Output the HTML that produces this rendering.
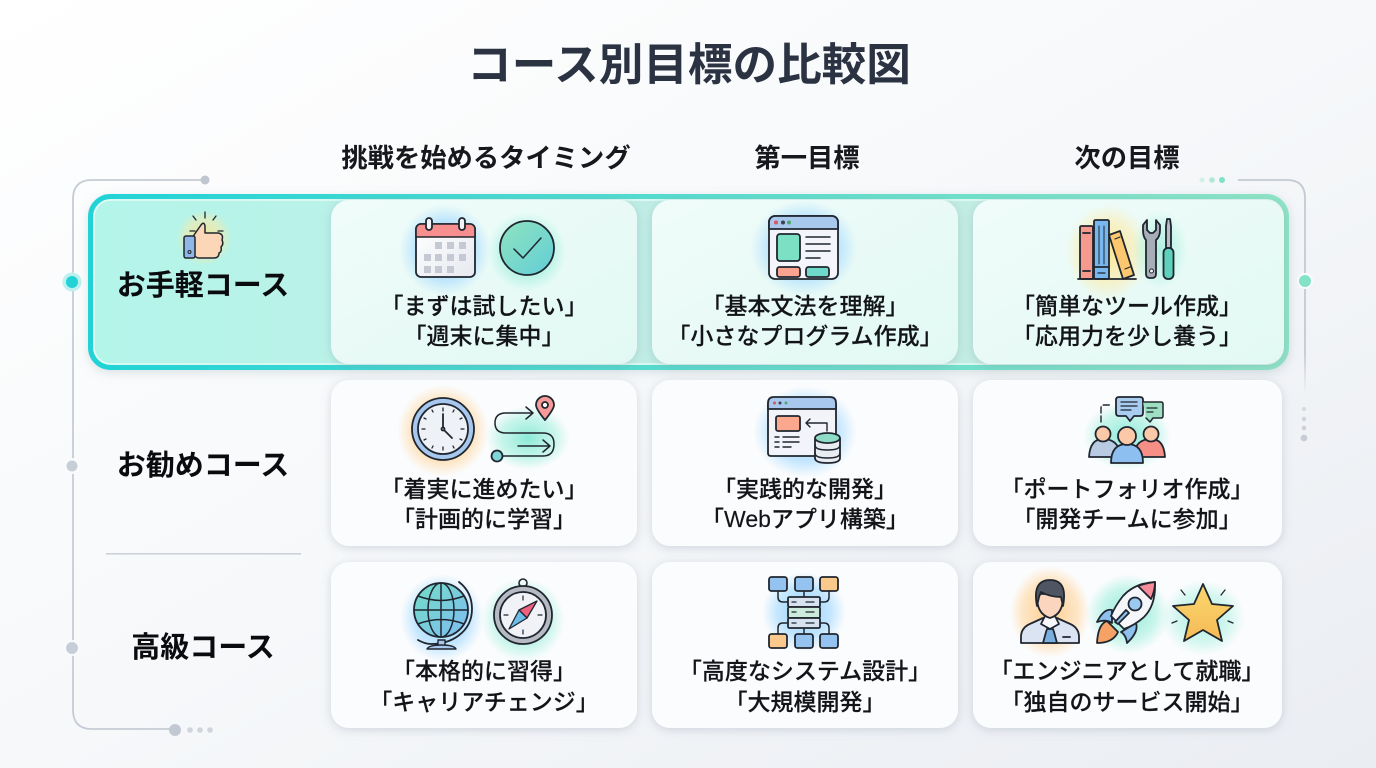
<!DOCTYPE html>
<html lang="ja"><head><meta charset="utf-8"><title>コース別目標の比較図</title>
<style>
html,body{margin:0;padding:0;width:1376px;height:768px;overflow:hidden;background:#f6f8fa}
svg{display:block}
text{font-family:"Liberation Sans","Noto Sans CJK JP",sans-serif;text-anchor:middle}
.t{font-size:44.600px;font-weight:700;fill:#2b3242}
.h{font-size:26.300px;font-weight:700;fill:#16181d}
.r{font-size:29px;font-weight:700;fill:#0a0b0e}
.c{font-size:23px;font-weight:500;fill:#121418;stroke:#121418;stroke-width:.15}
.o{fill:none;stroke:#20262f;stroke-width:1.8;stroke-linejoin:round;stroke-linecap:round}
.s{stroke:#20262f;stroke-width:1.8;stroke-linejoin:round;stroke-linecap:round}
</style></head><body>
<svg width="1376" height="768" viewBox="0 0 1376 768" xmlns="http://www.w3.org/2000/svg">
<defs>
<linearGradient id="bg" x1="0" y1="0" x2="1" y2="1"><stop offset="0" stop-color="#ffffff"/><stop offset=".5" stop-color="#f6f8fa"/><stop offset="1" stop-color="#eaedf2"/></linearGradient>
<linearGradient id="hs" x1="0" y1="0" x2="1" y2="0"><stop offset="0" stop-color="#22d3d6"/><stop offset="1" stop-color="#8de4c5"/></linearGradient>
<linearGradient id="hf" x1="0" y1="0" x2="1" y2="0"><stop offset="0" stop-color="#b4f5ea"/><stop offset=".5" stop-color="#c0ede5"/><stop offset="1" stop-color="#c4eee0"/></linearGradient>
<linearGradient id="c1" x1="0" y1="0" x2="1" y2="1"><stop offset="0" stop-color="#f0fcfa"/><stop offset="1" stop-color="#e2f9f3"/></linearGradient>
<radialGradient id="gb"><stop offset="0" stop-color="#7cc8ff" stop-opacity=".85"/><stop offset=".65" stop-color="#a0d8ff" stop-opacity=".6"/><stop offset="1" stop-color="#a8dcff" stop-opacity="0"/></radialGradient>
<radialGradient id="gt"><stop offset="0" stop-color="#66e3ca" stop-opacity=".75"/><stop offset=".65" stop-color="#95eed9" stop-opacity=".5"/><stop offset="1" stop-color="#9df0dd" stop-opacity="0"/></radialGradient>
<radialGradient id="go"><stop offset="0" stop-color="#ffc06e" stop-opacity=".8"/><stop offset=".7" stop-color="#ffd49a" stop-opacity=".55"/><stop offset="1" stop-color="#ffd9a3" stop-opacity="0"/></radialGradient>
<radialGradient id="gy"><stop offset="0" stop-color="#ffe27a" stop-opacity=".8"/><stop offset=".65" stop-color="#ffe9a0" stop-opacity=".5"/><stop offset="1" stop-color="#ffe9a0" stop-opacity="0"/></radialGradient>
<linearGradient id="chk" x1="0" y1="0" x2="1" y2="1"><stop offset="0" stop-color="#8fe4bf"/><stop offset="1" stop-color="#62cdd6"/></linearGradient>
<linearGradient id="glb" x1="0" y1="0" x2="1" y2="1"><stop offset="0" stop-color="#72ddc6"/><stop offset="1" stop-color="#7fbcf2"/></linearGradient>
<linearGradient id="str" x1="0" y1="0" x2="0" y2="1"><stop offset="0" stop-color="#fbd96f"/><stop offset="1" stop-color="#f5b955"/></linearGradient>
<linearGradient id="cal" x1="0" y1="0" x2="1" y2="1"><stop offset="0" stop-color="#ffffff"/><stop offset="1" stop-color="#e6e9f0"/></linearGradient>
<linearGradient id="fade" x1="0" y1="0" x2="0" y2="1"><stop offset="0" stop-color="#c4cad3"/><stop offset=".8" stop-color="#c4cad3"/><stop offset="1" stop-color="#c4cad3" stop-opacity="0"/></linearGradient>
<filter id="sh" x="-10%" y="-10%" width="120%" height="125%"><feDropShadow dx="0" dy="2" stdDeviation="5" flood-color="#7f8b9e" flood-opacity=".3"/></filter>
<filter id="sh2" x="-5%" y="-10%" width="110%" height="125%"><feDropShadow dx="0" dy="3" stdDeviation="5" flood-color="#7a9aa0" flood-opacity=".25"/></filter>
</defs>
<rect width="1376" height="768" fill="url(#bg)"/>

<text class="t" x="689" y="80">コース別目標の比較図</text>
<text class="h" x="486" y="167">挑戦を始めるタイミング</text>
<text class="h" x="807" y="167">第一目標</text>
<text class="h" x="1127" y="167">次の目標</text>

<!-- frame -->
<path d="M205 180H92Q73 180 73 199V710Q73 729 92 729H175" fill="none" stroke="#c6ccd5" stroke-width="1.8"/>
<path d="M1238 180H1287Q1305 180 1305 198V395" fill="none" stroke="url(#fade)" stroke-width="1.8"/>
<circle cx="205" cy="180" r="4.5" fill="#c0c6d0"/>
<circle cx="1202" cy="180" r="2.5" fill="#d3efe7"/><circle cx="1212" cy="180" r="2.8" fill="#b0e8d8"/><circle cx="1222" cy="180" r="3" fill="#7fe0c4"/>
<circle cx="72" cy="282" r="9.5" fill="#bdf0ee"/><circle cx="72" cy="282" r="6" fill="#22d3d6"/>
<circle cx="1305" cy="281" r="8" fill="#fafcfb"/><circle cx="1305" cy="281" r="6" fill="#84e3c6"/>
<circle cx="72" cy="466" r="8" fill="#fafbfc"/><circle cx="72" cy="466" r="5.5" fill="#c8ced7"/>
<circle cx="72" cy="648" r="8" fill="#fafbfc"/><circle cx="72" cy="648" r="6" fill="#c8ced7"/>
<circle cx="175" cy="730" r="6" fill="#c3c9d3"/>
<circle cx="190" cy="730" r="2.8" fill="#d0d5dc"/><circle cx="200" cy="730" r="2.8" fill="#d0d5dc"/><circle cx="210" cy="730" r="2.8" fill="#d0d5dc"/>
<circle cx="1304" cy="409" r="2" fill="#d5d9df"/><circle cx="1304" cy="419" r="2.2" fill="#cfd3da"/><circle cx="1304" cy="428" r="2.3" fill="#cbd0d7"/><circle cx="1304" cy="438" r="3.4" fill="#c8cdd5"/>
<rect x="106" y="553" width="195" height="1.6" fill="#cdd2da"/>

<!-- highlight -->
<rect x="90.500" y="196.500" width="1196" height="171" rx="20" fill="url(#hf)" stroke="url(#hs)" stroke-width="5" filter="url(#sh2)"/>
<rect x="94" y="200" width="1189" height="164" rx="17" fill="none" stroke="#e4fbf6" stroke-width="1.500"/>

<!-- cards -->
<g filter="url(#sh)">
<rect x="331" y="200" width="306" height="164" rx="18" fill="url(#c1)"/>
<rect x="652" y="200" width="306" height="164" rx="18" fill="url(#c1)"/>
<rect x="973" y="200" width="311" height="164" rx="18" fill="url(#c1)"/>
<rect x="331" y="380" width="306" height="166" rx="18" fill="#fbfcfd"/>
<rect x="652" y="380" width="306" height="166" rx="18" fill="#fbfcfd"/>
<rect x="973" y="380" width="309" height="166" rx="18" fill="#fbfcfd"/>
<rect x="331" y="562" width="306" height="166" rx="18" fill="#fbfcfd"/>
<rect x="652" y="562" width="306" height="166" rx="18" fill="#fbfcfd"/>
<rect x="973" y="562" width="309" height="166" rx="18" fill="#fbfcfd"/>
</g>

<!-- row labels -->
<text class="r" x="203" y="295">お手軽コース</text>
<text class="r" x="203" y="475">お勧めコース</text>
<text class="r" x="203" y="657">高級コース</text>

<!-- cell text -->
<text class="c" x="484" y="314">「まずは試したい」</text><text class="c" x="484" y="344">「週末に集中」</text>
<text class="c" x="805" y="314">「基本文法を理解」</text><text class="c" x="805" y="344">「小さなプログラム作成」</text>
<text class="c" x="1127" y="314">「簡単なツール作成」</text><text class="c" x="1127" y="344">「応用力を少し養う」</text>
<text class="c" x="484" y="497">「着実に進めたい」</text><text class="c" x="484" y="527">「計画的に学習」</text>
<text class="c" x="805" y="497">「実践的な開発」</text><text class="c" x="805" y="527">「Webアプリ構築」</text>
<text class="c" x="1127" y="497">「ポートフォリオ作成」</text><text class="c" x="1127" y="527">「開発チームに参加」</text>
<text class="c" x="484" y="679">「本格的に習得」</text><text class="c" x="484" y="710">「キャリアチェンジ」</text>
<text class="c" x="805" y="679">「高度なシステム設計」</text><text class="c" x="805" y="710">「大規模開発」</text>
<text class="c" x="1127" y="679">「エンジニアとして就職」</text><text class="c" x="1127" y="710">「独自のサービス開始」</text>

<!-- thumb -->
<circle cx="204" cy="238" r="28" fill="url(#gy)"/>
<g class="o" style="stroke-width:1.3"><path d="M205 212v6M193 216l3 4M216 216l-3 4M190 231h5M218 231h5"/></g>
<path class="s" style="stroke-width:1.500" fill="#fbd7b8" d="M194 235 L201 225 Q204 221 205 226 L205 233 L218 233 Q224 234 222 240 Q224 244 221 247 Q222 252 219 253 Q219 258 214 258 L198 258 L194 256Z"/>
<rect class="s" style="stroke-width:1.500" x="184" y="236" width="11" height="22" rx="2" fill="#8fb8e8"/>
<circle cx="189.500" cy="252" r="1.500" fill="none" stroke="#20262f" stroke-width="1"/>

<!-- calendar -->
<circle cx="445" cy="250" r="46" fill="url(#gb)"/>
<rect class="s" x="416" y="224" width="59" height="53" rx="5" fill="url(#cal)"/>
<path class="s" fill="#f78f8f" d="M416 237v-8a5 5 0 0 1 5-5h49a5 5 0 0 1 5 5v8z" style="stroke-width:1.600"/>
<rect class="s" x="426" y="218" width="6" height="12" rx="3" fill="#f3f4f8"/><rect class="s" x="459" y="218" width="6" height="12" rx="3" fill="#f3f4f8"/>
<g fill="#c4c9d4"><rect x="435" y="242" width="7" height="7"/><rect x="447" y="242" width="7" height="7"/><rect x="459" y="242" width="7" height="7"/><rect x="424" y="254" width="7" height="7"/><rect x="435" y="254" width="7" height="7"/><rect x="447" y="254" width="7" height="7"/><rect x="459" y="254" width="7" height="7"/><rect x="424" y="266" width="7" height="7"/><rect x="435" y="266" width="7" height="7"/><rect x="447" y="266" width="7" height="7"/></g>
<!-- check -->
<circle cx="527" cy="252" r="40" fill="url(#gt)"/>
<circle class="s" cx="527" cy="248" r="27" fill="url(#chk)"/>
<path class="o" style="stroke-width:1.500" d="M514 249l9 9 18-20"/>

<!-- browser 1 -->
<ellipse cx="804" cy="248" rx="54" ry="48" fill="url(#gb)"/>
<rect class="s" x="769" y="216" width="69" height="63" fill="#f3f5fa" rx="6"/>
<path class="s" fill="#a9c8ee" d="M769 229v-7a6 6 0 0 1 6-6h57a6 6 0 0 1 6 6v7z"/>
<circle cx="776" cy="222.500" r="2" fill="#d9575d"/><circle cx="783" cy="222.500" r="2" fill="#3c4350"/><circle cx="789" cy="222.500" r="2" fill="#4aa96c"/>
<rect class="s" x="777" y="234" width="23" height="27" rx="3" fill="#7be0c4"/>
<path class="o" style="stroke-width:1.500" d="M806 237h24M806 244h24M806 251h24M806 258h14"/>
<rect class="s" x="777" y="267" width="23" height="10" rx="2.500" fill="#fba391"/>
<rect class="s" x="806" y="267" width="23" height="10" rx="2.500" fill="#6fd9cc"/>

<!-- books & tools -->
<ellipse cx="1108" cy="252" rx="42" ry="48" fill="url(#gy)"/>
<ellipse cx="1160" cy="250" rx="28" ry="40" fill="url(#gt)" opacity=".6"/>
<rect class="s" x="1080" y="226" width="13" height="53" rx="1.500" fill="#f79a8e"/>
<path class="o" d="M1083 233h7M1083 271h7"/>
<rect class="s" x="1094" y="220" width="15" height="59" rx="1.500" fill="#78b8ee"/>
<path class="o" style="stroke-width:1" d="M1099 226v38M1104 226v38"/><path class="s" d="M1094 267h15" fill="none"/><path class="o" style="stroke-width:1.200" d="M1098 273h7"/>
<path class="s" fill="#fbc76f" d="M1109 235l11-4 14 44-11 4z"/>
<path class="o" style="stroke-width:1.200" d="M1115 239l5-2M1125 269l5-2"/>
<path class="o" d="M1078 279h58"/>
<path class="s" fill="#a8aeb8" d="M1143 230v-5l4-5v10l3 3h3l3-3v-10l4 5v5q0 7-4 10v34q0 4-4 4h-2q-4 0-4-4v-34q-3-3-3-10z"/>
<circle cx="1151.500" cy="271" r="2" fill="#f3f4f6" stroke="#20262f" stroke-width="1"/>
<path class="s" fill="#b8bdc6" d="M1166 248h5v-22l-1-7h-3l-1 7z"/>
<rect class="s" x="1163.500" y="248" width="10" height="31" rx="4.500" fill="#5fd0bb"/>

<!-- clock -->
<circle cx="443" cy="431" r="46" fill="url(#go)"/>
<circle class="s" cx="443" cy="429" r="31" fill="#a6c7ee"/>
<circle class="s" cx="443" cy="429" r="25" fill="#eef1f6"/>
<g class="o" style="stroke-width:1.300"><path d="M443 408v3M443 447v3M422 429h3M461 429h3M432 410l1 2M454 410l-1 2M432 448l1-2M454 448l-1-2M424 418l2 1M462 418l-2 1M424 440l2-1M462 440l-2-1"/></g>
<path class="o" d="M443 414v15l9 9"/><circle class="s" cx="443" cy="429" r="1.500" fill="#eef1f6"/>
<!-- route -->
<ellipse cx="528" cy="438" rx="42" ry="32" fill="url(#gt)"/>
<path class="o" style="stroke-width:1.500" d="M532 413H506Q495 413 495 423 495 433 506 433H543Q554 433 554 444 554 456 543 456H503"/>
<path class="o" style="stroke-width:1.500" d="M526 407l7 6-7 6M518 446h31M543 440l7 6-7 6"/>
<circle class="s" cx="497" cy="456" r="5.500" fill="#7fd5d8"/>
<path class="s" fill="#f99a9a" d="M545 420q-9-11-9-15a9 9 0 0 1 18 0q0 4-9 15z"/>
<circle class="s" cx="545" cy="405" r="3" fill="#fdfdfd"/>

<!-- browser + db -->
<ellipse cx="805" cy="432" rx="52" ry="46" fill="url(#gb)"/>
<path class="s" fill="#f2f4f9" d="M768 404h68v49q0 3-3 3h-62q-3 0-3-3z"/>
<path class="s" fill="#a9c8ee" d="M768 409v-6q0-6 6-6h56q6 0 6 6v6z"/>
<circle cx="774.500" cy="403" r="1.500" fill="#d9575d"/><circle cx="780" cy="403" r="1.500" fill="#3c4350"/><circle cx="786" cy="403" r="1.500" fill="#4aa96c"/>
<rect class="s" x="776" y="416" width="24" height="15" rx="2" fill="#fba88f"/>
<path class="o" style="stroke-width:1.400" d="M806 423h21v8M810 419l-4 4 4 4M775 437h4M783 437h16M775 442h4M783 442h16M775 447h4M783 447h8"/>
<path class="s" fill="#e9edf2" d="M815 439v19q0 5 12.500 5t12.500-5v-19z"/>
<ellipse class="s" cx="827.500" cy="438" rx="12.500" ry="5" fill="#8edcc8"/>
<path class="o" style="stroke-width:1.500" d="M815 445q0 5 12.500 5t12.500-5M815 453q0 5 12.500 5t12.500-5"/>

<!-- team -->
<ellipse cx="1127" cy="436" rx="44" ry="34" fill="url(#gt)"/>
<path class="o" stroke-dasharray="6 3" style="stroke-width:1.400" d="M1101 422v-14q0-3 3-3h8"/>
<path class="s" fill="#a8cdf0" d="M1116 400q0-3 3-3h21q3 0 3 3v13q0 3-3 3h-6l-4 5-4-5h-7q-3 0-3-3z"/>
<path class="o" style="stroke-width:1.300" d="M1121 402h16M1121 406h16M1121 410h10"/>
<path class="s" style="stroke-width:1.500" fill="#9fdfc4" d="M1143 402h18q2 0 2 2v12q0 2-2 2h-8l-3 4-4-4"/>
<path class="o" style="stroke-width:1.300" d="M1147 408h10M1147 412h6"/>
<path class="s" fill="#b9cbe3" d="M1089 457q1-18 14-18 12 0 16 10l-7 8z"/>
<path class="s" fill="#f68f86" d="M1165 457q-1-18-14-18-12 0-16 10l7 8z"/>
<circle class="s" cx="1103" cy="434" r="7.500" fill="#fbc9a8"/>
<circle class="s" cx="1151" cy="434" r="7.500" fill="#fbc9a8"/>
<path class="s" fill="#8dbff0" d="M1111 463q0-19 16-19t16 19z"/>
<circle class="s" cx="1127" cy="436" r="9" fill="#fbc9a8"/>

<!-- globe -->
<ellipse cx="442" cy="618" rx="42" ry="44" fill="url(#gb)"/>
<circle class="s" cx="441" cy="610" r="27" fill="url(#glb)"/>
<g class="o" style="stroke-width:1.500"><ellipse cx="441" cy="610" rx="13" ry="27"/><path d="M441 583v54M414 610h54M418 596q23 9 46 0M418 624q23-9 46 0"/></g>
<path class="o" d="M459 582q13 10 13 27 0 17-14 27-11 8-27 8-6 0-13-4"/>
<rect class="s" style="stroke-width:1.400" x="438" y="640" width="7" height="6" fill="#a9c8ee"/>
<path class="s" style="stroke-width:1.400" fill="#a9c8ee" d="M427 649q2-4 14.500-4t14.500 4z"/>

<!-- compass -->
<circle cx="523" cy="620" r="42" fill="url(#gt)"/>
<circle class="o" style="stroke-width:1.600" cx="523" cy="583" r="4"/>
<circle class="s" cx="523" cy="615" r="29" fill="#b5bac3"/>
<circle class="s" cx="523" cy="615" r="23" fill="#f0f2f7"/>
<path class="o" style="stroke-width:1.200" d="M523 596v4M523 630v4M504 615h4M538 615h4"/>
<path class="s" style="stroke-width:1.300" fill="#f0617e" d="M537 601l-18 9 8 8z"/>
<path class="s" style="stroke-width:1.300" fill="#6dbde9" d="M509 629l18-11-8-8z"/>

<!-- network -->
<ellipse cx="804" cy="612" rx="42" ry="40" fill="url(#gb)"/>
<g class="o" style="stroke-width:1.500"><path d="M778 588v9q0 5 5 5h7M804 588v10M829 588v9q0 5-5 5h-7M778 637v-9q0-5 5-5h7M804 637v-10M829 637v-9q0-5-5-5h-7"/></g>
<rect class="s" x="769" y="577" width="18" height="14" rx="2.500" fill="#95c3ef"/>
<rect class="s" x="795" y="577" width="18" height="14" rx="2.500" fill="#95c3ef"/>
<rect class="s" x="820" y="577" width="18" height="14" rx="2.500" fill="#fbc98c"/>
<rect class="s" x="769" y="634" width="18" height="14" rx="2.500" fill="#fbc98c"/>
<rect class="s" x="795" y="634" width="18" height="14" rx="2.500" fill="#95c3ef"/>
<rect class="s" x="820" y="634" width="18" height="14" rx="2.500" fill="#95c3ef"/>
<rect class="s" x="788" y="597" width="32" height="10" rx="1.500" fill="#d6e2ef"/>
<rect class="s" x="788" y="607" width="32" height="11" rx="1.500" fill="#cdebdc"/>
<rect class="s" x="788" y="618" width="32" height="10" rx="1.500" fill="#d6e2ef"/>
<path class="o" style="stroke-width:1.300" d="M792 602h4M806 602h8M792 612h4M806 612h8M792 623h4M806 623h8"/>

<!-- person -->
<ellipse cx="1050" cy="612" rx="40" ry="46" fill="url(#go)"/>
<path class="s" fill="#dbe4f2" d="M1021 643v-6q0-10 11-14l11-5h14l11 5q11 4 11 14v6z"/>
<path class="s" fill="#f6f8fb" d="M1041 624l9 5 9-5-4-8h-10z"/>
<path class="s" fill="#7aaede" d="M1047 629h6l1 3 3 11h-14l3-11z"/>
<path class="s" fill="#fbd5bd" d="M1037 594q-1 20 13 24 14-4 13-24z"/>
<path class="s" fill="#4f5563" d="M1037 606q-5-26 13-26 18 0 13 26l-2-9q-11 0-20-5l-2 5z"/>
<path class="o" d="M1063 637h7"/>

<!-- rocket -->
<ellipse cx="1128" cy="614" rx="42" ry="40" fill="url(#gt)"/>
<path class="s" fill="#8ec0ee" d="M1112 610q-8-2-15 12 9-3 15 1zM1136 623q3 9-9 20-1-8-6-11z" />
<path class="s" fill="#f4f6fa" d="M1155 582q-20 1-32 14-8 10-12 20l13 13q11-4 20-12 12-12 11-35z"/>
<path class="s" fill="#f78b9a" d="M1155 582q-9 1-17 4l13 13q4-8 4-17z"/>
<circle class="s" cx="1135" cy="604" r="6.500" fill="#9cc9f2"/>
<path class="s" fill="#8ec0ee" d="M1115 622l11-12 3 3-11 11z"/>
<path class="s" fill="#f6a266" d="M1107 621q-9 3-10 22 16 0 21-11z"/>

<!-- star -->
<ellipse cx="1203" cy="618" rx="42" ry="38" fill="url(#gt)" opacity=".75"/>
<path class="s" fill="url(#str)" d="M1203 584l9 20 21 2-16 14 5 21-19-11-19 11 5-21-16-14 21-2z"/>
<path class="o" style="stroke-width:1.300" d="M1181 590l4 5M1225 590l-4 5M1172 623l5-2M1233 623l-5-2"/>
</svg>
</body></html>
